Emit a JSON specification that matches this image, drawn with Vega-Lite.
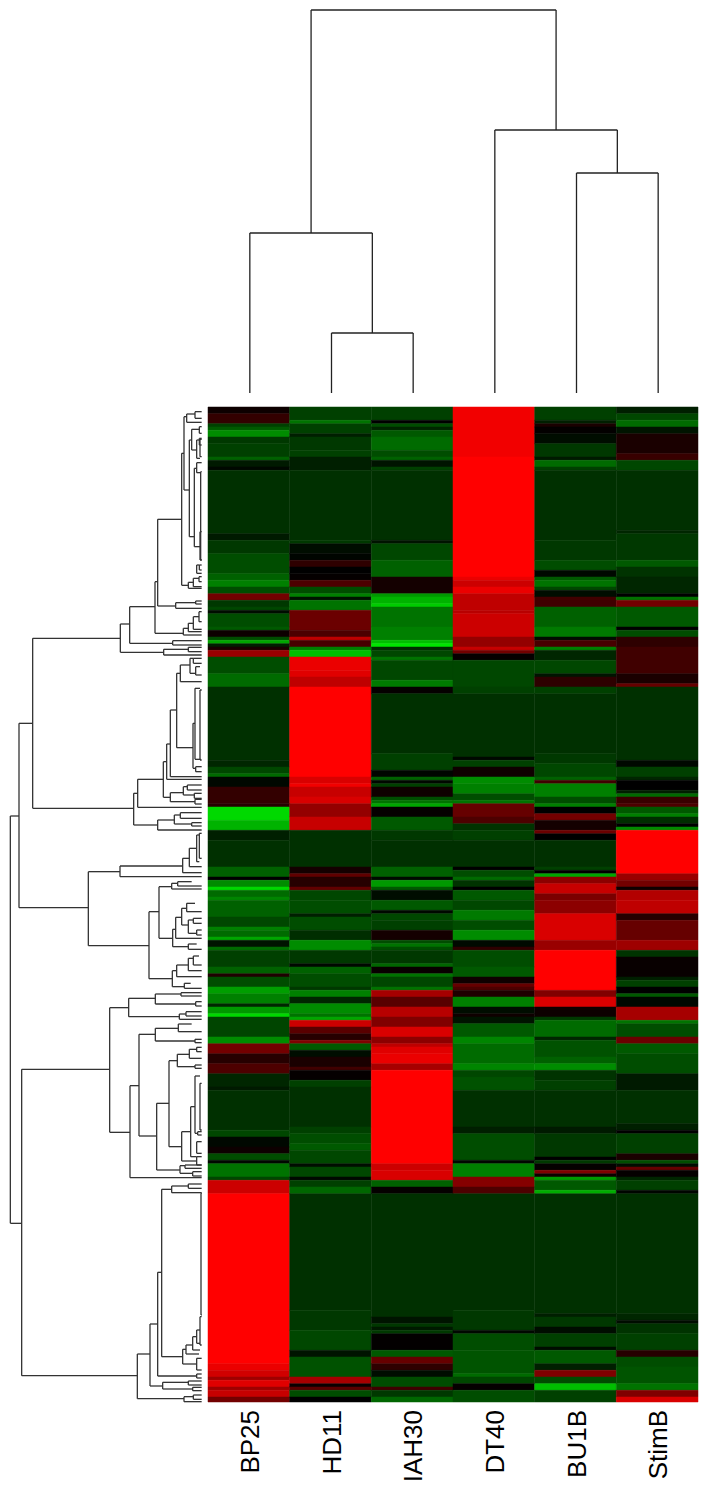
{"$schema":"https://vega.github.io/schema/vega-lite/v6.json","width":708,"height":1491,"padding":0,"autosize":"none","background":"white","config":{"view":{"stroke":null}},
"datasets":{
"cols":[{"c":0,"e":1,"m":0.5,"n":"BP25"},{"c":1,"e":2,"m":1.5,"n":"HD11"},{"c":2,"e":3,"m":2.5,"n":"IAH30"},{"c":3,"e":4,"m":3.5,"n":"DT40"},{"c":4,"e":5,"m":4.5,"n":"BU1B"},{"c":5,"e":6,"m":5.5,"n":"StimB"}],
"merges":[{"h":60,"xa":1.5,"xb":2.5,"ha":0,"hb":0},{"h":160,"xa":0.5,"xb":2,"ha":0,"hb":60},{"h":220,"xa":4.5,"xb":5.5,"ha":0,"hb":0},{"h":263,"xa":3.5,"xb":5,"ha":0,"hb":220},{"h":383,"xa":1.25,"xb":4.25,"ha":160,"hb":263}],
"nodes":[{"x":31,"a":1248,"b":2470,"p":57,"q":65},{"x":57,"a":970,"b":1523,"p":98,"q":265},{"x":98,"a":715,"b":1225,"p":361,"q":401},{"x":361,"a":672,"b":757,"p":389,"q":491},{"x":389,"a":620,"b":730,"p":465,"q":518},{"x":465,"a":545,"b":700,"p":473,"q":550},{"x":473,"a":358,"b":618,"p":545,"q":527},{"x":545,"a":160,"b":556,"p":552,"q":565},{"x":552,"a":50,"b":270,"p":560,"q":568},{"x":560,"a":42,"b":67,"p":585,"q":605},{"x":585,"a":35,"b":55,"p":605,"q":605},{"x":568,"a":120,"b":410,"p":575,"q":583},{"x":575,"a":88,"b":150,"p":598,"q":590},{"x":598,"a":80,"b":100,"p":605,"q":605},{"x":590,"a":120,"b":175,"p":598,"q":600},{"x":598,"a":115,"b":135,"p":605,"q":605},{"x":600,"a":118,"b":170,"p":605,"q":605},{"x":583,"a":205,"b":440,"p":590,"q":600},{"x":590,"a":188,"b":218,"p":605,"q":602},{"x":602,"a":215,"b":480,"p":605,"q":605},{"x":600,"a":395,"b":480,"p":605,"q":605},{"x":590,"a":495,"b":520,"p":598,"q":605},{"x":598,"a":495,"b":510,"p":605,"q":605},{"x":565,"a":547,"b":565,"p":580,"q":605},{"x":580,"a":535,"b":560,"p":597,"q":605},{"x":597,"a":530,"b":545,"p":605,"q":605},{"x":527,"a":608,"b":625,"p":587,"q":605},{"x":587,"a":603,"b":612,"p":605,"q":605},{"x":550,"a":685,"b":705,"p":565,"q":605},{"x":565,"a":670,"b":695,"p":580,"q":605},{"x":580,"a":650,"b":688,"p":597,"q":605},{"x":597,"a":635,"b":665,"p":605,"q":605},{"x":518,"a":722,"b":735,"p":605,"q":605},{"x":491,"a":748,"b":765,"p":565,"q":605},{"x":565,"a":742,"b":755,"p":605,"q":605},{"x":401,"a":1180,"b":1275,"p":413,"q":473},{"x":413,"a":1138,"b":1222,"p":490,"q":605},{"x":490,"a":1085,"b":1192,"p":500,"q":511},{"x":500,"a":1032,"b":1138,"p":511,"q":605},{"x":511,"a":930,"b":1130,"p":530,"q":605},{"x":530,"a":820,"b":1043,"p":541,"q":579},{"x":541,"a":795,"b":845,"p":570,"q":605},{"x":570,"a":775,"b":820,"p":580,"q":587},{"x":580,"a":775,"b":790,"p":605,"q":605},{"x":587,"a":800,"b":825,"p":600,"q":605},{"x":579,"a":970,"b":1105,"p":585,"q":587},{"x":585,"a":865,"b":1078,"p":600,"q":602},{"x":600,"a":870,"b":1080,"p":605,"q":605},{"x":587,"a":1100,"b":1115,"p":605,"q":605},{"x":511,"a":1178,"b":1205,"p":550,"q":585},{"x":550,"a":1160,"b":1185,"p":562,"q":583},{"x":562,"a":1155,"b":1170,"p":605,"q":605},{"x":583,"a":1180,"b":1195,"p":605,"q":605},{"x":585,"a":1198,"b":1212,"p":605,"q":605},{"x":473,"a":1260,"b":1290,"p":523,"q":605},{"x":523,"a":1245,"b":1272,"p":541,"q":575},{"x":541,"a":1238,"b":1255,"p":605,"q":605},{"x":575,"a":1268,"b":1278,"p":605,"q":605},{"x":265,"a":1415,"b":1637,"p":360,"q":447},{"x":360,"a":1398,"b":1430,"p":548,"q":605},{"x":548,"a":1375,"b":1418,"p":568,"q":605},{"x":568,"a":1345,"b":1400,"p":590,"q":605},{"x":590,"a":1305,"b":1385,"p":598,"q":598},{"x":598,"a":1300,"b":1375,"p":605,"q":605},{"x":447,"a":1535,"b":1736,"p":477,"q":517},{"x":477,"a":1460,"b":1615,"p":515,"q":518},{"x":515,"a":1450,"b":1467,"p":533,"q":605},{"x":533,"a":1445,"b":1458,"p":575,"q":605},{"x":518,"a":1588,"b":1640,"p":527,"q":565},{"x":527,"a":1552,"b":1615,"p":545,"q":605},{"x":545,"a":1525,"b":1575,"p":560,"q":565},{"x":560,"a":1510,"b":1535,"p":585,"q":605},{"x":565,"a":1560,"b":1600,"p":580,"q":590},{"x":580,"a":1555,"b":1570,"p":605,"q":605},{"x":590,"a":1590,"b":1605,"p":605,"q":605},{"x":565,"a":1632,"b":1648,"p":590,"q":605},{"x":517,"a":1712,"b":1760,"p":530,"q":553},{"x":530,"a":1695,"b":1730,"p":565,"q":605},{"x":565,"a":1675,"b":1712,"p":580,"q":605},{"x":580,"a":1668,"b":1695,"p":597,"q":605},{"x":553,"a":1750,"b":1765,"p":572,"q":605},{"x":65,"a":2008,"b":2927,"p":329,"q":412},{"x":329,"a":1823,"b":2197,"p":386,"q":390},{"x":386,"a":1795,"b":1850,"p":466,"q":538},{"x":466,"a":1782,"b":1812,"p":543,"q":587},{"x":543,"a":1778,"b":1788,"p":605,"q":605},{"x":587,"a":1805,"b":1818,"p":605,"q":605},{"x":538,"a":1842,"b":1858,"p":558,"q":605},{"x":558,"a":1835,"b":1848,"p":605,"q":605},{"x":390,"a":2057,"b":2333,"p":417,"q":605},{"x":417,"a":1903,"b":2208,"p":466,"q":470},{"x":466,"a":1885,"b":1923,"p":535,"q":585},{"x":535,"a":1872,"b":1895,"p":575,"q":605},{"x":585,"a":1918,"b":1928,"p":605,"q":605},{"x":470,"a":2110,"b":2310,"p":507,"q":540},{"x":507,"a":1982,"b":2240,"p":532,"q":545},{"x":532,"a":1963,"b":2000,"p":568,"q":585},{"x":568,"a":1948,"b":1975,"p":590,"q":605},{"x":590,"a":1942,"b":1955,"p":605,"q":605},{"x":585,"a":1995,"b":2005,"p":605,"q":605},{"x":545,"a":2195,"b":2283,"p":572,"q":590},{"x":572,"a":2120,"b":2270,"p":585,"q":590},{"x":585,"a":2028,"b":2200,"p":600,"q":593},{"x":600,"a":2050,"b":2190,"p":605,"q":605},{"x":593,"a":2195,"b":2205,"p":605,"q":605},{"x":590,"a":2225,"b":2260,"p":605,"q":605},{"x":590,"a":2270,"b":2295,"p":605,"q":605},{"x":540,"a":2297,"b":2320,"p":555,"q":578},{"x":555,"a":2295,"b":2305,"p":605,"q":605},{"x":578,"a":2315,"b":2328,"p":605,"q":605},{"x":412,"a":2862,"b":2996,"p":450,"q":552},{"x":450,"a":2772,"b":2958,"p":473,"q":488},{"x":473,"a":2617,"b":2928,"p":485,"q":590},{"x":485,"a":2368,"b":2870,"p":515,"q":548},{"x":515,"a":2358,"b":2378,"p":565,"q":605},{"x":565,"a":2352,"b":2365,"p":605,"q":605},{"x":603,"a":2380,"b":2745,"p":605,"q":605},{"x":548,"a":2848,"b":2892,"p":558,"q":590},{"x":558,"a":2835,"b":2862,"p":578,"q":597},{"x":578,"a":2810,"b":2850,"p":590,"q":600},{"x":590,"a":2790,"b":2830,"p":600,"q":600},{"x":600,"a":2750,"b":2835,"p":605,"q":605},{"x":590,"a":2875,"b":2910,"p":605,"q":605},{"x":590,"a":2922,"b":2934,"p":605,"q":605},{"x":488,"a":2947,"b":2967,"p":565,"q":578},{"x":565,"a":2943,"b":2955,"p":605,"q":605},{"x":578,"a":2962,"b":2972,"p":605,"q":605},{"x":552,"a":2990,"b":3005,"p":580,"q":605},{"x":580,"a":2985,"b":2998,"p":605,"q":605}],
"heat":[
{"c":0,"a":0,"b":2,"v":5},{"c":0,"a":2,"b":5,"v":20},{"c":0,"a":5,"b":6,"v":-25},{"c":0,"a":6,"b":7,"v":-35},{"c":0,"a":7,"b":9,"v":-55},{"c":0,"a":9,"b":11,"v":-22},{"c":0,"a":11,"b":15,"v":-25},{"c":0,"a":15,"b":16,"v":-38},{"c":0,"a":16,"b":18,"v":-10},{"c":0,"a":18,"b":19,"v":-3},{"c":0,"a":19,"b":38,"v":-19},{"c":0,"a":38,"b":40,"v":-10},{"c":0,"a":40,"b":44,"v":-22},{"c":0,"a":44,"b":50,"v":-30},{"c":0,"a":50,"b":52,"v":-38},{"c":0,"a":52,"b":54,"v":-50},{"c":0,"a":54,"b":56,"v":-30},{"c":0,"a":56,"b":58,"v":45},{"c":0,"a":58,"b":60,"v":-22},{"c":0,"a":60,"b":61,"v":-28},{"c":0,"a":61,"b":62,"v":-5},{"c":0,"a":62,"b":66,"v":-30},{"c":0,"a":66,"b":67,"v":-35},{"c":0,"a":67,"b":69,"v":5},{"c":0,"a":69,"b":70,"v":-30},{"c":0,"a":70,"b":71,"v":-65},{"c":0,"a":71,"b":72,"v":-12},{"c":0,"a":72,"b":73,"v":10},{"c":0,"a":73,"b":75,"v":60},{"c":0,"a":75,"b":80,"v":-30},{"c":0,"a":80,"b":84,"v":-42},{"c":0,"a":84,"b":106,"v":-19},{"c":0,"a":106,"b":108,"v":-15},{"c":0,"a":108,"b":110,"v":-28},{"c":0,"a":110,"b":111,"v":-42},{"c":0,"a":111,"b":114,"v":-3},{"c":0,"a":114,"b":119,"v":20},{"c":0,"a":119,"b":120,"v":15},{"c":0,"a":120,"b":124,"v":-85},{"c":0,"a":124,"b":127,"v":-70},{"c":0,"a":127,"b":130,"v":-12},{"c":0,"a":130,"b":138,"v":-19},{"c":0,"a":138,"b":141,"v":-38},{"c":0,"a":141,"b":142,"v":0},{"c":0,"a":142,"b":144,"v":-55},{"c":0,"a":144,"b":145,"v":-85},{"c":0,"a":145,"b":147,"v":-42},{"c":0,"a":147,"b":148,"v":-52},{"c":0,"a":148,"b":153,"v":-38},{"c":0,"a":153,"b":156,"v":-28},{"c":0,"a":156,"b":157,"v":-50},{"c":0,"a":157,"b":159,"v":-42},{"c":0,"a":159,"b":160,"v":-65},{"c":0,"a":160,"b":162,"v":-8},{"c":0,"a":162,"b":163,"v":-42},{"c":0,"a":163,"b":168,"v":-25},{"c":0,"a":168,"b":170,"v":-38},{"c":0,"a":170,"b":171,"v":12},{"c":0,"a":171,"b":174,"v":-30},{"c":0,"a":174,"b":176,"v":-62},{"c":0,"a":176,"b":179,"v":-50},{"c":0,"a":179,"b":180,"v":-15},{"c":0,"a":180,"b":182,"v":-60},{"c":0,"a":182,"b":183,"v":-85},{"c":0,"a":183,"b":189,"v":-27},{"c":0,"a":189,"b":191,"v":-55},{"c":0,"a":191,"b":194,"v":45},{"c":0,"a":194,"b":197,"v":15},{"c":0,"a":197,"b":200,"v":30},{"c":0,"a":200,"b":204,"v":-15},{"c":0,"a":204,"b":205,"v":-10},{"c":0,"a":205,"b":217,"v":-19},{"c":0,"a":217,"b":219,"v":-28},{"c":0,"a":219,"b":222,"v":-3},{"c":0,"a":222,"b":224,"v":5},{"c":0,"a":224,"b":226,"v":-30},{"c":0,"a":226,"b":227,"v":-3},{"c":0,"a":227,"b":231,"v":-45},{"c":0,"a":231,"b":232,"v":-28},{"c":0,"a":232,"b":236,"v":80},{"c":0,"a":236,"b":287,"v":100},{"c":0,"a":287,"b":289,"v":92},{"c":0,"a":289,"b":291,"v":82},{"c":0,"a":291,"b":292,"v":62},{"c":0,"a":292,"b":294,"v":88},{"c":0,"a":294,"b":295,"v":62},{"c":0,"a":295,"b":297,"v":78},{"c":0,"a":297,"b":298.5,"v":45},
{"c":1,"a":0,"b":4,"v":-25},{"c":1,"a":4,"b":5,"v":-45},{"c":1,"a":5,"b":8,"v":-25},{"c":1,"a":8,"b":9,"v":-12},{"c":1,"a":9,"b":13,"v":-22},{"c":1,"a":13,"b":15,"v":-25},{"c":1,"a":15,"b":19,"v":-12},{"c":1,"a":19,"b":40,"v":-19},{"c":1,"a":40,"b":41,"v":-22},{"c":1,"a":41,"b":44,"v":-5},{"c":1,"a":44,"b":46,"v":-2},{"c":1,"a":46,"b":48,"v":18},{"c":1,"a":48,"b":50,"v":0},{"c":1,"a":50,"b":52,"v":2},{"c":1,"a":52,"b":54,"v":30},{"c":1,"a":54,"b":56,"v":-30},{"c":1,"a":56,"b":57,"v":-50},{"c":1,"a":57,"b":58,"v":-8},{"c":1,"a":58,"b":61,"v":-45},{"c":1,"a":61,"b":67,"v":42},{"c":1,"a":67,"b":69,"v":30},{"c":1,"a":69,"b":70,"v":75},{"c":1,"a":70,"b":72,"v":28},{"c":1,"a":72,"b":73,"v":-50},{"c":1,"a":73,"b":75,"v":-75},{"c":1,"a":75,"b":79,"v":92},{"c":1,"a":79,"b":81,"v":88},{"c":1,"a":81,"b":84,"v":75},{"c":1,"a":84,"b":111,"v":100},{"c":1,"a":111,"b":113,"v":85},{"c":1,"a":113,"b":114,"v":95},{"c":1,"a":114,"b":117,"v":78},{"c":1,"a":117,"b":119,"v":85},{"c":1,"a":119,"b":123,"v":58},{"c":1,"a":123,"b":127,"v":78},{"c":1,"a":127,"b":138,"v":-19},{"c":1,"a":138,"b":140,"v":8},{"c":1,"a":140,"b":141,"v":38},{"c":1,"a":141,"b":144,"v":15},{"c":1,"a":144,"b":145,"v":38},{"c":1,"a":145,"b":148,"v":-28},{"c":1,"a":148,"b":152,"v":-30},{"c":1,"a":152,"b":153,"v":-12},{"c":1,"a":153,"b":157,"v":-30},{"c":1,"a":157,"b":160,"v":-18},{"c":1,"a":160,"b":163,"v":-55},{"c":1,"a":163,"b":167,"v":-22},{"c":1,"a":167,"b":168,"v":-3},{"c":1,"a":168,"b":170,"v":-38},{"c":1,"a":170,"b":174,"v":-30},{"c":1,"a":174,"b":175,"v":-22},{"c":1,"a":175,"b":177,"v":-50},{"c":1,"a":177,"b":179,"v":-15},{"c":1,"a":179,"b":182,"v":-55},{"c":1,"a":182,"b":183,"v":-45},{"c":1,"a":183,"b":184,"v":-65},{"c":1,"a":184,"b":186,"v":80},{"c":1,"a":186,"b":188,"v":35},{"c":1,"a":188,"b":190,"v":15},{"c":1,"a":190,"b":191,"v":50},{"c":1,"a":191,"b":193,"v":-35},{"c":1,"a":193,"b":195,"v":-5},{"c":1,"a":195,"b":198,"v":10},{"c":1,"a":198,"b":199,"v":25},{"c":1,"a":199,"b":202,"v":2},{"c":1,"a":202,"b":204,"v":-25},{"c":1,"a":204,"b":216,"v":-19},{"c":1,"a":216,"b":218,"v":-25},{"c":1,"a":218,"b":221,"v":-30},{"c":1,"a":221,"b":223,"v":-35},{"c":1,"a":223,"b":227,"v":-28},{"c":1,"a":227,"b":228,"v":-5},{"c":1,"a":228,"b":231,"v":-28},{"c":1,"a":231,"b":232,"v":-3},{"c":1,"a":232,"b":234,"v":-25},{"c":1,"a":234,"b":236,"v":-40},{"c":1,"a":236,"b":271,"v":-19},{"c":1,"a":271,"b":277,"v":-22},{"c":1,"a":277,"b":283,"v":-28},{"c":1,"a":283,"b":285,"v":-8},{"c":1,"a":285,"b":291,"v":-32},{"c":1,"a":291,"b":293,"v":65},{"c":1,"a":293,"b":294,"v":3},{"c":1,"a":294,"b":295,"v":35},{"c":1,"a":295,"b":297,"v":-30},{"c":1,"a":297,"b":298.5,"v":0},
{"c":2,"a":0,"b":4,"v":-25},{"c":2,"a":4,"b":5,"v":0},{"c":2,"a":5,"b":6,"v":-30},{"c":2,"a":6,"b":7,"v":-15},{"c":2,"a":7,"b":9,"v":-35},{"c":2,"a":9,"b":13,"v":-42},{"c":2,"a":13,"b":15,"v":-30},{"c":2,"a":15,"b":16,"v":-38},{"c":2,"a":16,"b":18,"v":-8},{"c":2,"a":18,"b":19,"v":-25},{"c":2,"a":19,"b":40,"v":-19},{"c":2,"a":40,"b":41,"v":-8},{"c":2,"a":41,"b":46,"v":-28},{"c":2,"a":46,"b":51,"v":-38},{"c":2,"a":51,"b":56,"v":8},{"c":2,"a":56,"b":57,"v":-60},{"c":2,"a":57,"b":59,"v":-70},{"c":2,"a":59,"b":60,"v":-80},{"c":2,"a":60,"b":66,"v":-45},{"c":2,"a":66,"b":70,"v":-50},{"c":2,"a":70,"b":71,"v":-75},{"c":2,"a":71,"b":72,"v":-90},{"c":2,"a":72,"b":73,"v":-18},{"c":2,"a":73,"b":75,"v":-28},{"c":2,"a":75,"b":76,"v":-45},{"c":2,"a":76,"b":82,"v":-28},{"c":2,"a":82,"b":84,"v":-48},{"c":2,"a":84,"b":86,"v":2},{"c":2,"a":86,"b":104,"v":-19},{"c":2,"a":104,"b":109,"v":-25},{"c":2,"a":109,"b":111,"v":-2},{"c":2,"a":111,"b":112,"v":-38},{"c":2,"a":112,"b":113,"v":-3},{"c":2,"a":113,"b":114,"v":-25},{"c":2,"a":114,"b":117,"v":6},{"c":2,"a":117,"b":118,"v":-30},{"c":2,"a":118,"b":119,"v":-45},{"c":2,"a":119,"b":120,"v":-65},{"c":2,"a":120,"b":123,"v":2},{"c":2,"a":123,"b":127,"v":-35},{"c":2,"a":127,"b":130,"v":-22},{"c":2,"a":130,"b":138,"v":-19},{"c":2,"a":138,"b":141,"v":-38},{"c":2,"a":141,"b":142,"v":-4},{"c":2,"a":142,"b":144,"v":-60},{"c":2,"a":144,"b":145,"v":-35},{"c":2,"a":145,"b":148,"v":-5},{"c":2,"a":148,"b":151,"v":-35},{"c":2,"a":151,"b":152,"v":-3},{"c":2,"a":152,"b":154,"v":-28},{"c":2,"a":154,"b":157,"v":-25},{"c":2,"a":157,"b":160,"v":8},{"c":2,"a":160,"b":161,"v":-30},{"c":2,"a":161,"b":162,"v":-45},{"c":2,"a":162,"b":163,"v":-30},{"c":2,"a":163,"b":167,"v":-22},{"c":2,"a":167,"b":168,"v":-40},{"c":2,"a":168,"b":170,"v":3},{"c":2,"a":170,"b":171,"v":-45},{"c":2,"a":171,"b":174,"v":-28},{"c":2,"a":174,"b":175,"v":-45},{"c":2,"a":175,"b":177,"v":65},{"c":2,"a":177,"b":180,"v":35},{"c":2,"a":180,"b":183,"v":72},{"c":2,"a":183,"b":186,"v":50},{"c":2,"a":186,"b":189,"v":85},{"c":2,"a":189,"b":191,"v":55},{"c":2,"a":191,"b":192,"v":75},{"c":2,"a":192,"b":194,"v":88},{"c":2,"a":194,"b":197,"v":92},{"c":2,"a":197,"b":199,"v":65},{"c":2,"a":199,"b":227,"v":100},{"c":2,"a":227,"b":229,"v":80},{"c":2,"a":229,"b":232,"v":85},{"c":2,"a":232,"b":234,"v":-38},{"c":2,"a":234,"b":236,"v":2},{"c":2,"a":236,"b":273,"v":-19},{"c":2,"a":273,"b":275,"v":-8},{"c":2,"a":275,"b":276,"v":-22},{"c":2,"a":276,"b":277,"v":-10},{"c":2,"a":277,"b":278,"v":-22},{"c":2,"a":278,"b":283,"v":1},{"c":2,"a":283,"b":285,"v":-35},{"c":2,"a":285,"b":287,"v":40},{"c":2,"a":287,"b":289,"v":18},{"c":2,"a":289,"b":291,"v":-5},{"c":2,"a":291,"b":294,"v":-30},{"c":2,"a":294,"b":295,"v":25},{"c":2,"a":295,"b":297,"v":-22},{"c":2,"a":297,"b":298.5,"v":-40},
{"c":3,"a":0,"b":15,"v":95},{"c":3,"a":15,"b":51,"v":100},{"c":3,"a":51,"b":52,"v":92},{"c":3,"a":52,"b":54,"v":80},{"c":3,"a":54,"b":56,"v":92},{"c":3,"a":56,"b":61,"v":75},{"c":3,"a":61,"b":62,"v":72},{"c":3,"a":62,"b":69,"v":80},{"c":3,"a":69,"b":72,"v":58},{"c":3,"a":72,"b":73,"v":78},{"c":3,"a":73,"b":74,"v":45},{"c":3,"a":74,"b":76,"v":2},{"c":3,"a":76,"b":84,"v":-28},{"c":3,"a":84,"b":86,"v":-25},{"c":3,"a":86,"b":105,"v":-19},{"c":3,"a":105,"b":106,"v":-3},{"c":3,"a":106,"b":108,"v":-25},{"c":3,"a":108,"b":111,"v":6},{"c":3,"a":111,"b":113,"v":-55},{"c":3,"a":113,"b":116,"v":-50},{"c":3,"a":116,"b":118,"v":-30},{"c":3,"a":118,"b":119,"v":-45},{"c":3,"a":119,"b":123,"v":40},{"c":3,"a":123,"b":125,"v":30},{"c":3,"a":125,"b":127,"v":-20},{"c":3,"a":127,"b":130,"v":-25},{"c":3,"a":130,"b":138,"v":-19},{"c":3,"a":138,"b":139,"v":0},{"c":3,"a":139,"b":141,"v":-30},{"c":3,"a":141,"b":142,"v":-42},{"c":3,"a":142,"b":144,"v":-20},{"c":3,"a":144,"b":145,"v":0},{"c":3,"a":145,"b":148,"v":-35},{"c":3,"a":148,"b":151,"v":-28},{"c":3,"a":151,"b":154,"v":-48},{"c":3,"a":154,"b":157,"v":-30},{"c":3,"a":157,"b":160,"v":-55},{"c":3,"a":160,"b":162,"v":-4},{"c":3,"a":162,"b":163,"v":18},{"c":3,"a":163,"b":168,"v":-30},{"c":3,"a":168,"b":171,"v":-35},{"c":3,"a":171,"b":173,"v":6},{"c":3,"a":173,"b":174,"v":40},{"c":3,"a":174,"b":175,"v":30},{"c":3,"a":175,"b":177,"v":12},{"c":3,"a":177,"b":180,"v":-50},{"c":3,"a":180,"b":182,"v":-5},{"c":3,"a":182,"b":183,"v":6},{"c":3,"a":183,"b":185,"v":-8},{"c":3,"a":185,"b":189,"v":-35},{"c":3,"a":189,"b":191,"v":-52},{"c":3,"a":191,"b":197,"v":-42},{"c":3,"a":197,"b":199,"v":-52},{"c":3,"a":199,"b":201,"v":-28},{"c":3,"a":201,"b":205,"v":-32},{"c":3,"a":205,"b":216,"v":-19},{"c":3,"a":216,"b":218,"v":-12},{"c":3,"a":218,"b":226,"v":-30},{"c":3,"a":226,"b":227,"v":-3},{"c":3,"a":227,"b":231,"v":-50},{"c":3,"a":231,"b":234,"v":52},{"c":3,"a":234,"b":236,"v":30},{"c":3,"a":236,"b":271,"v":-19},{"c":3,"a":271,"b":277,"v":-22},{"c":3,"a":277,"b":278,"v":-3},{"c":3,"a":278,"b":283,"v":-30},{"c":3,"a":283,"b":290,"v":-33},{"c":3,"a":290,"b":291,"v":-42},{"c":3,"a":291,"b":293,"v":-28},{"c":3,"a":293,"b":295,"v":2},{"c":3,"a":295,"b":298.5,"v":-30},
{"c":4,"a":0,"b":4,"v":-25},{"c":4,"a":4,"b":5,"v":-12},{"c":4,"a":5,"b":6,"v":10},{"c":4,"a":6,"b":8,"v":1},{"c":4,"a":8,"b":11,"v":-5},{"c":4,"a":11,"b":15,"v":-22},{"c":4,"a":15,"b":16,"v":-10},{"c":4,"a":16,"b":18,"v":-42},{"c":4,"a":18,"b":19,"v":-25},{"c":4,"a":19,"b":40,"v":-19},{"c":4,"a":40,"b":46,"v":-22},{"c":4,"a":46,"b":49,"v":-30},{"c":4,"a":49,"b":51,"v":-3},{"c":4,"a":51,"b":52,"v":-35},{"c":4,"a":52,"b":54,"v":-45},{"c":4,"a":54,"b":55,"v":-28},{"c":4,"a":55,"b":57,"v":-5},{"c":4,"a":57,"b":60,"v":25},{"c":4,"a":60,"b":66,"v":-38},{"c":4,"a":66,"b":69,"v":-48},{"c":4,"a":69,"b":70,"v":-5},{"c":4,"a":70,"b":72,"v":28},{"c":4,"a":72,"b":73,"v":-50},{"c":4,"a":73,"b":76,"v":-15},{"c":4,"a":76,"b":80,"v":-28},{"c":4,"a":80,"b":81,"v":-8},{"c":4,"a":81,"b":84,"v":18},{"c":4,"a":84,"b":86,"v":-25},{"c":4,"a":86,"b":104,"v":-19},{"c":4,"a":104,"b":107,"v":-22},{"c":4,"a":107,"b":111,"v":-28},{"c":4,"a":111,"b":112,"v":-38},{"c":4,"a":112,"b":113,"v":25},{"c":4,"a":113,"b":117,"v":-50},{"c":4,"a":117,"b":119,"v":-30},{"c":4,"a":119,"b":120,"v":-50},{"c":4,"a":120,"b":122,"v":0},{"c":4,"a":122,"b":124,"v":45},{"c":4,"a":124,"b":127,"v":8},{"c":4,"a":127,"b":128,"v":42},{"c":4,"a":128,"b":130,"v":0},{"c":4,"a":130,"b":138,"v":-19},{"c":4,"a":138,"b":139,"v":-25},{"c":4,"a":139,"b":140,"v":0},{"c":4,"a":140,"b":141,"v":-65},{"c":4,"a":141,"b":143,"v":55},{"c":4,"a":143,"b":146,"v":78},{"c":4,"a":146,"b":148,"v":48},{"c":4,"a":148,"b":152,"v":55},{"c":4,"a":152,"b":160,"v":85},{"c":4,"a":160,"b":163,"v":60},{"c":4,"a":163,"b":175,"v":100},{"c":4,"a":175,"b":177,"v":50},{"c":4,"a":177,"b":180,"v":85},{"c":4,"a":180,"b":183,"v":5},{"c":4,"a":183,"b":184,"v":-22},{"c":4,"a":184,"b":189,"v":-42},{"c":4,"a":189,"b":190,"v":-15},{"c":4,"a":190,"b":195,"v":-32},{"c":4,"a":195,"b":197,"v":-38},{"c":4,"a":197,"b":199,"v":-55},{"c":4,"a":199,"b":202,"v":-20},{"c":4,"a":202,"b":205,"v":-25},{"c":4,"a":205,"b":216,"v":-19},{"c":4,"a":216,"b":218,"v":-10},{"c":4,"a":218,"b":225,"v":-22},{"c":4,"a":225,"b":226,"v":0},{"c":4,"a":226,"b":227,"v":-22},{"c":4,"a":227,"b":229,"v":2},{"c":4,"a":229,"b":230,"v":50},{"c":4,"a":230,"b":231,"v":5},{"c":4,"a":231,"b":232,"v":-60},{"c":4,"a":232,"b":235,"v":-35},{"c":4,"a":235,"b":236,"v":-68},{"c":4,"a":236,"b":272,"v":-19},{"c":4,"a":272,"b":273,"v":-12},{"c":4,"a":273,"b":276,"v":-22},{"c":4,"a":276,"b":278,"v":-5},{"c":4,"a":278,"b":282,"v":-25},{"c":4,"a":282,"b":283,"v":-5},{"c":4,"a":283,"b":287,"v":-35},{"c":4,"a":287,"b":289,"v":-12},{"c":4,"a":289,"b":291,"v":50},{"c":4,"a":291,"b":293,"v":-30},{"c":4,"a":293,"b":295,"v":-75},{"c":4,"a":295,"b":298.5,"v":-25},
{"c":5,"a":0,"b":2,"v":-12},{"c":5,"a":2,"b":4,"v":-28},{"c":5,"a":4,"b":6,"v":-42},{"c":5,"a":6,"b":8,"v":-8},{"c":5,"a":8,"b":14,"v":10},{"c":5,"a":14,"b":16,"v":22},{"c":5,"a":16,"b":19,"v":-28},{"c":5,"a":19,"b":37,"v":-19},{"c":5,"a":37,"b":38,"v":-15},{"c":5,"a":38,"b":46,"v":-22},{"c":5,"a":46,"b":48,"v":-35},{"c":5,"a":48,"b":51,"v":-20},{"c":5,"a":51,"b":56,"v":-15},{"c":5,"a":56,"b":57,"v":0},{"c":5,"a":57,"b":58,"v":-45},{"c":5,"a":58,"b":60,"v":45},{"c":5,"a":60,"b":66,"v":-35},{"c":5,"a":66,"b":67,"v":0},{"c":5,"a":67,"b":69,"v":-30},{"c":5,"a":69,"b":72,"v":18},{"c":5,"a":72,"b":80,"v":25},{"c":5,"a":80,"b":83,"v":10},{"c":5,"a":83,"b":84,"v":40},{"c":5,"a":84,"b":106,"v":-19},{"c":5,"a":106,"b":108,"v":-3},{"c":5,"a":108,"b":111,"v":-25},{"c":5,"a":111,"b":112,"v":-15},{"c":5,"a":112,"b":115,"v":0},{"c":5,"a":115,"b":116,"v":-12},{"c":5,"a":116,"b":117,"v":-42},{"c":5,"a":117,"b":119,"v":22},{"c":5,"a":119,"b":120,"v":30},{"c":5,"a":120,"b":122,"v":-35},{"c":5,"a":122,"b":123,"v":-50},{"c":5,"a":123,"b":125,"v":-18},{"c":5,"a":125,"b":126,"v":0},{"c":5,"a":126,"b":127,"v":-55},{"c":5,"a":127,"b":140,"v":100},{"c":5,"a":140,"b":142,"v":60},{"c":5,"a":142,"b":144,"v":45},{"c":5,"a":144,"b":145,"v":6},{"c":5,"a":145,"b":148,"v":70},{"c":5,"a":148,"b":152,"v":75},{"c":5,"a":152,"b":154,"v":15},{"c":5,"a":154,"b":160,"v":40},{"c":5,"a":160,"b":163,"v":62},{"c":5,"a":163,"b":165,"v":-20},{"c":5,"a":165,"b":171,"v":3},{"c":5,"a":171,"b":172,"v":-12},{"c":5,"a":172,"b":174,"v":-25},{"c":5,"a":174,"b":176,"v":0},{"c":5,"a":176,"b":177,"v":-35},{"c":5,"a":177,"b":180,"v":-3},{"c":5,"a":180,"b":184,"v":65},{"c":5,"a":184,"b":185,"v":-45},{"c":5,"a":185,"b":189,"v":-30},{"c":5,"a":189,"b":191,"v":42},{"c":5,"a":191,"b":194,"v":-35},{"c":5,"a":194,"b":200,"v":-30},{"c":5,"a":200,"b":205,"v":-10},{"c":5,"a":205,"b":215,"v":-19},{"c":5,"a":215,"b":217,"v":-12},{"c":5,"a":217,"b":218,"v":0},{"c":5,"a":218,"b":224,"v":-25},{"c":5,"a":224,"b":226,"v":10},{"c":5,"a":226,"b":227,"v":-30},{"c":5,"a":227,"b":228,"v":-5},{"c":5,"a":228,"b":229,"v":40},{"c":5,"a":229,"b":231,"v":2},{"c":5,"a":231,"b":232,"v":-15},{"c":5,"a":232,"b":235,"v":-25},{"c":5,"a":235,"b":236,"v":-2},{"c":5,"a":236,"b":272,"v":-19},{"c":5,"a":272,"b":274,"v":-15},{"c":5,"a":274,"b":275,"v":-5},{"c":5,"a":275,"b":278,"v":-20},{"c":5,"a":278,"b":283,"v":-25},{"c":5,"a":283,"b":285,"v":15},{"c":5,"a":285,"b":288,"v":-30},{"c":5,"a":288,"b":293,"v":-33},{"c":5,"a":293,"b":295,"v":-45},{"c":5,"a":295,"b":297,"v":50},{"c":5,"a":297,"b":298.5,"v":85}
]},
"resolve":{"scale":{"x":"independent","y":"independent","color":"independent","stroke":"independent"}},
"layer":[
{"data":{"name":"heat"},"transform":[{"lookup":"c","from":{"data":{"name":"cols"},"key":"c","fields":["e"]}}],"mark":{"type":"rect","strokeWidth":0.5},"encoding":{"x":{"field":"c","type":"quantitative","axis":null,"scale":{"domain":[0,6],"range":[208,698],"nice":false,"zero":false}},"x2":{"field":"e"},"y":{"field":"a","type":"quantitative","axis":null,"scale":{"domain":[0,298.5],"range":[407,1402],"nice":false,"zero":false}},"y2":{"field":"b"},"color":{"field":"v","type":"quantitative","legend":null,"scale":{"domain":[-100,0,100],"range":["#00ff00","#000000","#ff0000"],"interpolate":"rgb"}},"stroke":{"field":"v","type":"quantitative","legend":null,"scale":{"domain":[-100,0,100],"range":["#00ff00","#000000","#ff0000"],"interpolate":"rgb"}}}},
{"data":{"name":"nodes"},"mark":{"type":"rule","color":"#333333","strokeWidth":1.3},"encoding":{"x":{"field":"x","type":"quantitative","axis":null,"scale":{"domain":[0,612],"range":[0,204],"nice":false,"zero":false}},"y":{"field":"a","type":"quantitative","axis":null,"scale":{"domain":[0,3000],"range":[400,1400],"nice":false,"zero":false}},"y2":{"field":"b"}}},
{"data":{"name":"nodes"},"mark":{"type":"rule","color":"#333333","strokeWidth":1.3},"encoding":{"x":{"field":"x","type":"quantitative","axis":null,"scale":{"domain":[0,612],"range":[0,204],"nice":false,"zero":false}},"x2":{"field":"p"},"y":{"field":"a","type":"quantitative","axis":null,"scale":{"domain":[0,3000],"range":[400,1400],"nice":false,"zero":false}}}},
{"data":{"name":"nodes"},"mark":{"type":"rule","color":"#333333","strokeWidth":1.3},"encoding":{"x":{"field":"x","type":"quantitative","axis":null,"scale":{"domain":[0,612],"range":[0,204],"nice":false,"zero":false}},"x2":{"field":"q"},"y":{"field":"b","type":"quantitative","axis":null,"scale":{"domain":[0,3000],"range":[400,1400],"nice":false,"zero":false}}}},
{"data":{"name":"merges"},"mark":{"type":"rule","color":"#222222","strokeWidth":1.3},"encoding":{"x":{"field":"xa","type":"quantitative","axis":null,"scale":{"domain":[0,6],"range":[209,699],"nice":false,"zero":false}},"x2":{"field":"xb"},"y":{"field":"h","type":"quantitative","axis":null,"scale":{"domain":[0,393],"range":[393,0],"nice":false,"zero":false}}}},
{"data":{"name":"merges"},"mark":{"type":"rule","color":"#222222","strokeWidth":1.3},"encoding":{"x":{"field":"xa","type":"quantitative","axis":null,"scale":{"domain":[0,6],"range":[209,699],"nice":false,"zero":false}},"y":{"field":"h","type":"quantitative","axis":null,"scale":{"domain":[0,393],"range":[393,0],"nice":false,"zero":false}},"y2":{"field":"ha"}}},
{"data":{"name":"merges"},"mark":{"type":"rule","color":"#222222","strokeWidth":1.3},"encoding":{"x":{"field":"xb","type":"quantitative","axis":null,"scale":{"domain":[0,6],"range":[209,699],"nice":false,"zero":false}},"y":{"field":"h","type":"quantitative","axis":null,"scale":{"domain":[0,393],"range":[393,0],"nice":false,"zero":false}},"y2":{"field":"hb"}}},
{"data":{"name":"cols"},"mark":{"type":"text","angle":270,"align":"right","baseline":"middle","font":"Liberation Sans","fontSize":26,"color":"#000000"},"encoding":{"x":{"field":"m","type":"quantitative","axis":null,"scale":{"domain":[0,6],"range":[210,700],"nice":false,"zero":false}},"y":{"value":1410},"text":{"field":"n"}}}
]}
